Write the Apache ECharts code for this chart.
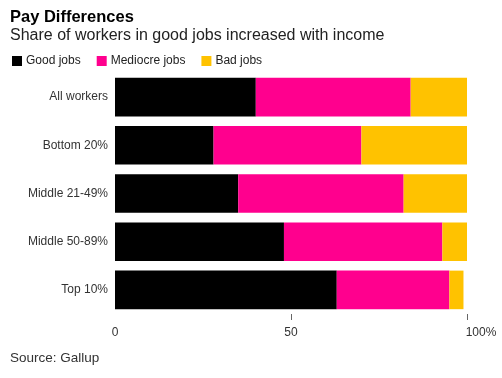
<!DOCTYPE html>
<html><head><meta charset="utf-8">
<script src="https://cdn.jsdelivr.net/npm/echarts@6/dist/echarts.min.js"></script>
<style>html,body{margin:0;padding:0;background:#fff}#c{width:502px;height:378px}</style>
</head><body><div id="c"></div>
<script>
var categories = ["All workers", "Bottom 20%", "Middle 21-49%", "Middle 50-89%", "Top 10%"];
var goodJobs = [40, 28, 35, 48, 63];
var mediocreJobs = [44, 42, 47, 45, 32];
var badJobs = [16, 30, 18, 7, 4];
var xTicks = [0, 50, 100];

var font = '"Liberation Sans", Arial, sans-serif';
var chart = echarts.init(document.getElementById('c'), null, {renderer: 'canvas'});
function mk(name, data, color) {
  return {name: name, type: 'bar', stack: 'a', data: data, barWidth: '80%',
    itemStyle: {color: color}, emphasis: {disabled: true}};
}
chart.setOption({
  animation: false,
  textStyle: {fontFamily: font},
  title: [
    {text: 'Pay Differences', left: 5, top: 4, textStyle: {fontFamily: font, fontSize: 16.5, fontWeight: 'bold', color: '#000'}},
    {text: 'Share of workers in good jobs increased with income', left: 5, top: 23, textStyle: {fontFamily: font, fontSize: 16, fontWeight: 'normal', color: '#222'}},
    {text: 'Source: Gallup', left: 5, top: 346, textStyle: {fontFamily: font, fontSize: 13.5, fontWeight: 'normal', color: '#333'}}
  ],
  legend: {left: 7, top: 50, itemWidth: 10, itemHeight: 10, itemGap: 16, icon: 'rect',
    textStyle: {fontFamily: font, fontSize: 12, color: '#222', padding: [0, 0, 0, -1]},
    data: ['Good jobs', 'Mediocre jobs', 'Bad jobs']},
  grid: {left: 115, right: 35, top: 73, height: 241, containLabel: false},
  xAxis: {type: 'value', min: 0, max: 100, interval: 50,
    axisLine: {show: false}, splitLine: {show: false},
    axisTick: {show: true, customValues: [50, 100], length: 6, lineStyle: {color: '#666'}},
    axisLabel: {margin: 13, fontSize: 12, color: '#333', fontFamily: font,
      customValues: xTicks,
      formatter: function (v) { return v === 100 ? '{r|100%}' : String(v); },
      rich: {r: {fontSize: 12, color: '#333', fontFamily: font, padding: [0, 0, 0, 28]}}}},
  yAxis: {type: 'category', data: categories, inverse: true,
    axisLine: {show: false}, axisTick: {show: false},
    axisLabel: {margin: 7, fontSize: 12, color: '#333', fontFamily: font}},
  series: [
    mk('Good jobs', goodJobs, '#000000'),
    mk('Mediocre jobs', mediocreJobs, '#ff008e'),
    mk('Bad jobs', badJobs, '#ffc200')
  ]
});
</script></body></html>
